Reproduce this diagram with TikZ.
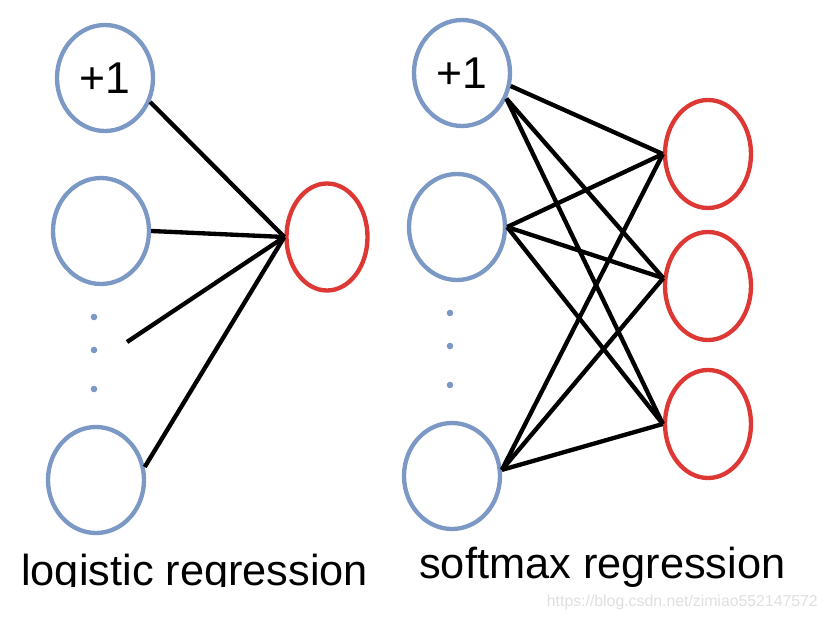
\documentclass[tikz,border=0pt]{standalone}
\usepackage{fontspec}
\setmainfont{Liberation Sans}
\usetikzlibrary{positioning,shapes.geometric}
\definecolor{nodeblue}{RGB}{124,152,196}
\definecolor{nodered}{RGB}{222,56,52}
\tikzset{
  inp/.style={draw=nodeblue,ellipse,line width=3.7pt,minimum width=2.88cm,minimum height=3.18cm,inner sep=0pt,font=\fontsize{38}{38}\selectfont},
  outp/.style={draw=nodered,ellipse,line width=3.7pt,minimum width=2.58cm,minimum height=3.24cm,inner sep=0pt},
  link/.style={line width=3.7pt},
  caption/.style={anchor=base west,inner sep=0pt,font=\fontsize{37}{37}\selectfont},
}

\begin{document}
\begin{tikzpicture}[x=0.03cm,y=-0.03cm]
\useasboundingbox (0,0) rectangle (828,618);
% logistic regression
\node[inp] (a1) at (105,78) {+1};
\node[inp] (a2) at (101,231) {};
\node[inp] (a3) at (96,480) {};
\node[outp,minimum width=2.43cm,minimum height=3.21cm] (y) at (327,237) {};
\foreach \yy in {317,350,389} \fill[nodeblue] (94,\yy) circle[radius=2.8pt];
\coordinate (ad) at (127,342);
\draw[link] (a1.-28) -- (y.west);
\draw[link] (a2.east) -- (y.west);
\draw[link] (ad) -- (y.west);
\draw[link] (a3.15) -- (y.west);
\begin{scope}
\clip (0,0) rectangle (414,586);
\node[caption] (lab1) at (21,585) {logistic regression};
\end{scope}
% softmax regression
\node[inp] (b1) at (462,73) {+1};
\node[inp] (b2) at (457,227) {};
\node[inp] (b3) at (452,476) {};
\node[outp] (z1) at (708,154) {};
\node[outp] (z2) at (708,286) {};
\node[outp] (z3) at (708,424) {};
\foreach \yy in {313,346,385} \fill[nodeblue] (450,\yy) circle[radius=2.8pt];
\draw[link] (b1.-15) -- (z1.west);
\draw[link] (b1.-30) -- (z2.170);
\draw[link] (b1.-30) -- (z3.west);
\foreach \t in {z1.west,z2.170,z3.west} {
  \draw[link] (b2.east) -- (\t);
  \draw[link] (b3.7) -- (\t);
}
\node[caption] (lab2) at (419,578) {softmax regression};
\node[anchor=base east,inner sep=0pt,text=gray!25,font=\fontsize{13.5}{13.5}\selectfont] (wm) at (818,606) {https://blog.csdn.net/zimiao552147572};
\end{tikzpicture}
\end{document}
